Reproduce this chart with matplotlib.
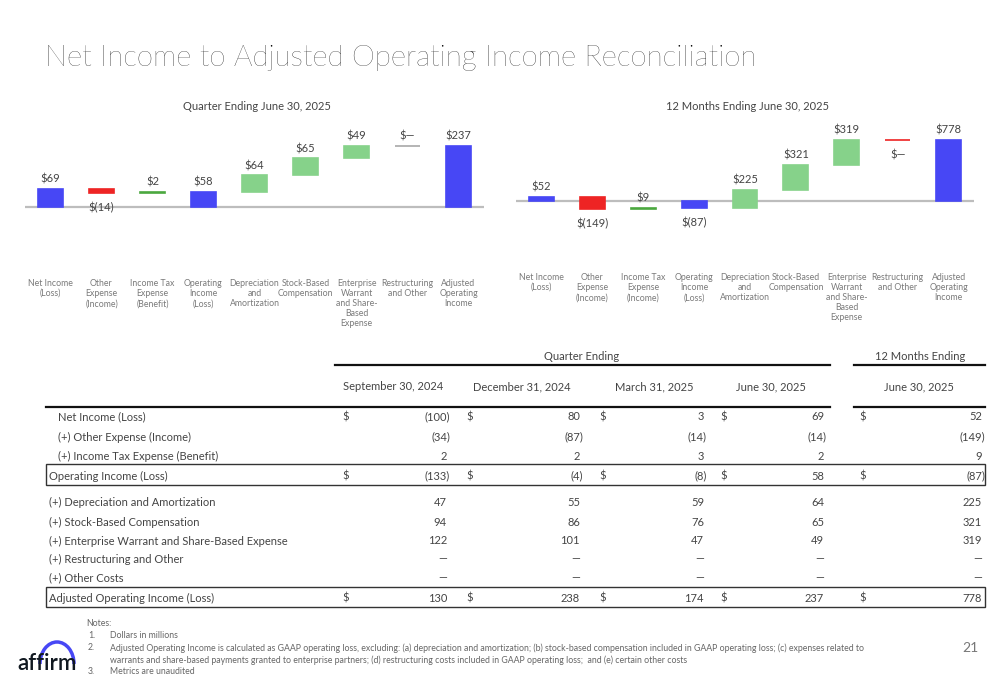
import matplotlib.pyplot as plt
import matplotlib.patches as patches
from matplotlib.lines import Line2D

plt.rcParams['font.family'] = ['Lato', 'DejaVu Sans']

# ---- data ----
cats_q = ['Net Income\n(Loss)', 'Other\nExpense\n(Income)', 'Income Tax\nExpense\n(Benefit)',
          'Operating\nIncome\n(Loss)', 'Depreciation\nand\nAmortization', 'Stock-Based\nCompensation',
          'Enterprise\nWarrant\nand Share-\nBased\nExpense', 'Restructuring\nand Other',
          'Adjusted\nOperating\nIncome']
cats_y = ['Net Income\n(Loss)', 'Other\nExpense\n(Income)', 'Income Tax\nExpense\n(Income)',
          'Operating\nIncome\n(Loss)', 'Depreciation\nand\nAmortization', 'Stock-Based\nCompensation',
          'Enterprise\nWarrant\nand Share-\nBased\nExpense', 'Restructuring\nand Other',
          'Adjusted\nOperating\nIncome']
kinds = ['total', 'delta', 'delta', 'total', 'delta', 'delta', 'delta', 'delta', 'total']
q_vals = [69, -14, 2, 58, 64, 65, 49, 0, 237]
y_vals = [52, -149, 9, -87, 225, 321, 319, 0, 778]

row_labels = ['Net Income (Loss)', '(+) Other Expense (Income)', '(+) Income Tax Expense (Benefit)',
              'Operating Income (Loss)', '(+) Depreciation and Amortization',
              '(+) Stock-Based Compensation', '(+) Enterprise Warrant and Share-Based Expense',
              '(+) Restructuring and Other', '(+) Other Costs', 'Adjusted Operating Income (Loss)']
col_heads = ['September 30, 2024', 'December 31, 2024', 'March 31, 2025', 'June 30, 2025', 'June 30, 2025']
sep24 = [-100, -34, 2, -133, 47, 94, 122, None, None, 130]
dec24 = [80, -87, 2, -4, 55, 86, 101, None, None, 238]
mar25 = [3, -14, 3, -8, 59, 76, 47, None, None, 174]
jun25 = [69, -14, 2, 58, 64, 65, 49, None, None, 237]
ttm25 = [52, -149, 9, -87, 225, 321, 319, None, None, 778]
dollar_rows = [0, 3, 9]

BLUE = '#4747F5'
RED = '#EE2424'
LGREEN = '#86D28A'
DGREEN = '#4BA83F'
GRAY = '#A8A8A8'
TXT = '#444444'

W, H = 1000, 685
fig = plt.figure(figsize=(10, 6.85), dpi=100)
fig.patch.set_facecolor('white')

def fx(x):
    return x / W

def fy(y):
    return 1 - y / H

fig.text(fx(45), fy(58), 'Net Income to Adjusted Operating Income Reconciliation',
         fontsize=21.2, fontweight='light', color='#000000', va='center', ha='left')


def waterfall(left, right, ylim, vals, cats, colors, dash_below, title, lab_top):
    ax = fig.add_axes([fx(left), fy(240), (right - left) / W, 120 / H])
    ax.set_xlim(-0.5, 8.5)
    ax.set_ylim(*ylim)
    ax.set_axis_off()
    ax.axhline(0, color='#BDBDBD', lw=1.6, zorder=1)
    run = 0
    for i, (v, k) in enumerate(zip(vals, kinds)):
        if k == 'total':
            bottom, h = 0, v
            run = v
        else:
            bottom, h = run, v
            run = run + v
        c = colors[i]
        ax.bar(i, h, bottom=bottom, width=0.49, color=c, edgecolor=c,
               linewidth=1.2, zorder=2)
        top = max(bottom, bottom + h)
        low = min(bottom, bottom + h)
        if v < 0:
            txt = '$(%d)' % abs(v)
        elif v == 0:
            txt = '$—'
        else:
            txt = '$%d' % v
        if v < 0 or (v == 0 and dash_below):
            ax.annotate(txt, (i, low), xytext=(0, -7), textcoords='offset points',
                        ha='center', va='top', fontsize=8, color=TXT)
        else:
            ax.annotate(txt, (i, top), xytext=(0, 3), textcoords='offset points',
                        ha='center', va='bottom', fontsize=8, color=TXT)
        ax.text(i, lab_top, cats[i], transform=ax.get_xaxis_transform(), ha='center',
                va='top', fontsize=6.3, color='#7A7A7A', linespacing=1.15)
    fig.text(fx((left + right) / 2 + 2), fy(106), title, ha='center', va='center',
             fontsize=8, color=TXT)
    return ax


q_colors = [BLUE, RED, DGREEN, BLUE, LGREEN, LGREEN, LGREEN, GRAY, BLUE]
y_colors = [BLUE, RED, DGREEN, BLUE, LGREEN, LGREEN, LGREEN, RED, BLUE]
waterfall(25, 484, (-129, 336), q_vals, cats_q, q_colors, False,
          'Quarter Ending June 30, 2025', -(279 - 240) / 120)
waterfall(516, 974, (-494, 1025), y_vals, cats_y, y_colors, True,
          '12 Months Ending June 30, 2025', -(273 - 240) / 120)

# ---- table ----
fig.text(fx(582), fy(357), 'Quarter Ending', ha='center', va='center', fontsize=8, color=TXT)
fig.text(fx(920), fy(357), '12 Months Ending', ha='center', va='center', fontsize=8, color=TXT)
for x0, x1, y in [(335, 830, 365), (854, 985, 365), (46, 830, 407), (854, 985, 407)]:
    fig.add_artist(Line2D([fx(x0), fx(x1)], [fy(y), fy(y)], transform=fig.transFigure,
                          color='#111111', lw=1.6))
head_x = [393, 522, 654, 771, 919]
for x, t in zip(head_x, col_heads):
    fig.text(fx(x), fy(387), t, ha='center', va='center', fontsize=8, color=TXT)

row_y = [417, 437, 456, 476, 502, 522, 541, 559, 578, 598]
for i, (lab, y) in enumerate(zip(row_labels, row_y)):
    x = 58 if i < 3 else 49
    fig.text(fx(x), fy(y), lab, ha='left', va='center', fontsize=8, color=TXT)

dollar_x = [342, 466, 599, 720, 859]
right_x = [450, 583, 707, 827, 985]
cols = [sep24, dec24, mar25, jun25, ttm25]
for col, dx, rx in zip(cols, dollar_x, right_x):
    for i, (v, y) in enumerate(zip(col, row_y)):
        if i in dollar_rows:
            fig.text(fx(dx), fy(y), '$', ha='left', va='center', fontsize=8, color=TXT)
        if v is None:
            s, off = '—', 3
        elif v < 0:
            s, off = '(%d)' % abs(v), 0
        else:
            s, off = '%d' % v, 3
        fig.text(fx(rx - off), fy(y), s, ha='right', va='center', fontsize=8, color=TXT)

for y0, y1 in [(464, 485), (587, 607)]:
    fig.add_artist(patches.Rectangle((fx(46), fy(y1)), (985 - 46) / W, (y1 - y0) / H,
                                     transform=fig.transFigure, fill=False,
                                     edgecolor='#333333', lw=1.0))

# ---- notes ----
NC = '#666666'
fig.text(fx(86), fy(623), 'Notes:', fontsize=6.3, color=NC, va='center')
notes = [('1.', 'Dollars in millions', 635),
         ('2.', 'Adjusted Operating Income is calculated as GAAP operating loss, excluding: (a) depreciation and '
                'amortization; (b) stock-based compensation included in GAAP operating loss; (c) expenses related to', 648),
         ('', 'warrants and share-based payments granted to enterprise partners; (d) restructuring costs included '
              'in GAAP operating loss;  and (e) certain other costs', 660),
         ('3.', 'Metrics are unaudited', 672)]
for n, t, y in notes:
    fig.text(fx(88), fy(y), n, fontsize=6.3, color=NC, va='center')
    fig.text(fx(110), fy(y), t, fontsize=6.3, color=NC, va='center')
fig.text(fx(970), fy(648), '21', fontsize=10, color='#777777', va='center', ha='center')

# logo
fig.text(fx(17), fy(664), 'affirm', fontsize=16, fontweight='semibold', color='#101820',
         va='center', ha='left')
fig.add_artist(patches.Arc((fx(57), fy(664)), 34 / W, 44 / H, theta1=0, theta2=180,
                           transform=fig.transFigure, color=BLUE, lw=2.5))

fig.savefig('out.png', dpi=100, facecolor='white')
